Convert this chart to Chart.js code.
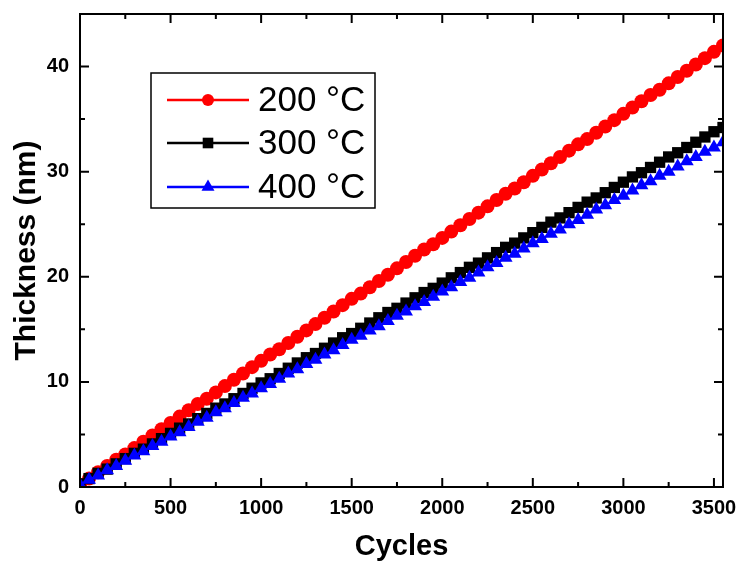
<!DOCTYPE html>
<html>
<head>
<meta charset="utf-8">
<title>Thickness vs Cycles</title>
<script src="https://cdn.jsdelivr.net/npm/chart.js@4.4.1/dist/chart.umd.min.js"></script>
<style>
  body { margin: 0; background: #fff; }
  canvas { display: block; }
</style>
</head>
<body>
<canvas id="thicknessChart" width="738" height="564"></canvas>
<script>
// Cycle numbers (every 50 cycles)
const cycles = [
  0, 50, 100, 150, 200, 250, 300, 350, 400, 450,
  500, 550, 600, 650, 700, 750, 800, 850, 900, 950,
  1000, 1050, 1100, 1150, 1200, 1250, 1300, 1350, 1400, 1450,
  1500, 1550, 1600, 1650, 1700, 1750, 1800, 1850, 1900, 1950,
  2000, 2050, 2100, 2150, 2200, 2250, 2300, 2350, 2400, 2450,
  2500, 2550, 2600, 2650, 2700, 2750, 2800, 2850, 2900, 2950,
  3000, 3050, 3100, 3150, 3200, 3250, 3300, 3350, 3400, 3450,
  3500, 3550
];

// Thickness (nm)
const thick200 = [
  0.2, 0.8, 1.4, 2.0, 2.6, 3.1, 3.7, 4.3, 4.9, 5.5,
  6.1, 6.7, 7.3, 7.9, 8.4, 9.0, 9.6, 10.2, 10.8, 11.4,
  12.0, 12.6, 13.1, 13.7, 14.3, 14.9, 15.5, 16.1, 16.7, 17.3,
  17.9, 18.4, 19.0, 19.6, 20.2, 20.8, 21.4, 22.0, 22.6, 23.1,
  23.7, 24.3, 24.9, 25.5, 26.1, 26.7, 27.3, 27.9, 28.4, 29.0,
  29.6, 30.2, 30.8, 31.4, 32.0, 32.6, 33.1, 33.7, 34.3, 34.9,
  35.5, 36.1, 36.7, 37.3, 37.8, 38.4, 39.0, 39.6, 40.2, 40.8,
  41.4, 42.0
];
const thick300 = [
  0.3, 0.8, 1.3, 1.7, 2.2, 2.7, 3.2, 3.6, 4.1, 4.6,
  5.1, 5.6, 6.0, 6.5, 7.0, 7.5, 7.9, 8.4, 8.9, 9.4,
  9.9, 10.3, 10.8, 11.3, 11.8, 12.3, 12.7, 13.2, 13.7, 14.2,
  14.6, 15.1, 15.6, 16.1, 16.6, 17.0, 17.5, 18.0, 18.5, 18.9,
  19.4, 19.9, 20.4, 20.9, 21.3, 21.8, 22.3, 22.8, 23.2, 23.7,
  24.2, 24.7, 25.2, 25.6, 26.1, 26.6, 27.1, 27.5, 28.0, 28.5,
  29.0, 29.5, 29.9, 30.4, 30.9, 31.4, 31.8, 32.3, 32.8, 33.3,
  33.8, 34.2
];
const thick400 = [
  0.2, 0.7, 1.1, 1.6, 2.0, 2.5, 3.0, 3.4, 3.9, 4.3,
  4.8, 5.2, 5.7, 6.2, 6.6, 7.1, 7.5, 8.0, 8.5, 8.9,
  9.4, 9.8, 10.3, 10.8, 11.2, 11.7, 12.1, 12.6, 13.0, 13.5,
  14.0, 14.4, 14.9, 15.3, 15.8, 16.3, 16.7, 17.2, 17.6, 18.1,
  18.6, 19.0, 19.5, 19.9, 20.4, 20.9, 21.3, 21.8, 22.2, 22.7,
  23.2, 23.6, 24.1, 24.5, 25.0, 25.4, 25.9, 26.4, 26.8, 27.3,
  27.7, 28.2, 28.7, 29.1, 29.6, 30.0, 30.5, 31.0, 31.4, 31.9,
  32.3, 32.8
];

const seriesLabels = ['200 °C', '300 °C', '400 °C'];

// Tick positions (major + minor), labels only on the majors
const xTicks = [0, 250, 500, 750, 1000, 1250, 1500, 1750, 2000, 2250, 2500, 2750, 3000, 3250, 3500];
const yTicks = [0, 5, 10, 15, 20, 25, 30, 35, 40];

const FONT = '"Liberation Sans", Arial, Helvetica, sans-serif';

function toPoints(ys) {
    return cycles.map((c, i) => ({ x: c, y: ys[i] }));
}

// Origin-style frame with inward ticks on all four sides
const framePlugin = {
    id: 'frame',
    afterDraw(chart) {
        const ctx = chart.ctx;
        const a = chart.chartArea;
        const xs = chart.scales.x;
        const ys = chart.scales.y;
        ctx.save();
        ctx.strokeStyle = '#000';
        ctx.lineWidth = 2;
        ctx.lineCap = 'butt';
        ctx.beginPath();
        xs.ticks.forEach(t => {
            const px = xs.getPixelForValue(t.value);
            const len = t.value % 500 === 0 ? 9 : 5;
            ctx.moveTo(px, a.bottom); ctx.lineTo(px, a.bottom - len);
            ctx.moveTo(px, a.top); ctx.lineTo(px, a.top + len);
        });
        ys.ticks.forEach(t => {
            const py = ys.getPixelForValue(t.value);
            const len = t.value % 10 === 0 ? 9 : 5;
            ctx.moveTo(a.left, py); ctx.lineTo(a.left + len, py);
            ctx.moveTo(a.right, py); ctx.lineTo(a.right - len, py);
        });
        ctx.stroke();
        ctx.strokeRect(a.left, a.top, a.right - a.left, a.bottom - a.top);
        ctx.restore();
    }
};

// Boxed legend inside the plot, like the original figure
const boxLegend = {
    id: 'boxLegend',
    afterDraw(chart) {
        const ctx = chart.ctx;
        ctx.save();
        ctx.fillStyle = '#fff';
        ctx.fillRect(151, 73, 224, 135);
        ctx.strokeStyle = '#000';
        ctx.lineWidth = 1.5;
        ctx.strokeRect(151, 73, 224, 135);
        const rowY = [100, 143, 187];
        const sizes = [6, 7.5, 7.5];
        chart.data.datasets.forEach((ds, i) => {
            const y = rowY[i];
            ctx.strokeStyle = ds.borderColor;
            ctx.lineWidth = 2.5;
            ctx.beginPath();
            ctx.moveTo(167, y); ctx.lineTo(249, y);
            ctx.stroke();
            ctx.fillStyle = ds.pointBackgroundColor;
            ctx.strokeStyle = ds.pointBorderColor;
            Chart.helpers.drawPoint(ctx, {
                pointStyle: ds.pointStyle, radius: sizes[i], rotation: 0, borderWidth: 0
            }, 208, y);
            ctx.fillStyle = '#000';
            ctx.font = '35px ' + FONT;
            ctx.textBaseline = 'middle';
            ctx.textAlign = 'left';
            ctx.fillText(ds.label, 258, y + 1);
        });
        ctx.restore();
    }
};

function makeSet(label, ys, color, style, radius, order) {
    return {
        label: label,
        data: toPoints(ys),
        borderColor: color,
        backgroundColor: color,
        pointBackgroundColor: color,
        pointBorderColor: color,
        pointBorderWidth: 0,
        pointStyle: style,
        pointRadius: radius,
        borderWidth: 2,
        tension: 0,
        order: order
    };
}

new Chart(document.getElementById('thicknessChart').getContext('2d'), {
    type: 'line',
    data: {
        datasets: [
            makeSet(seriesLabels[0], thick200, '#ff0000', 'circle', 7, 3),
            makeSet(seriesLabels[1], thick300, '#000000', 'rect', 8, 2),
            makeSet(seriesLabels[2], thick400, '#0000ff', 'triangle', 8, 1)
        ]
    },
    options: {
        responsive: false,
        animation: false,
        layout: { padding: { left: 0, top: 14, right: 15, bottom: 0 } },
        plugins: {
            legend: { display: false },
            tooltip: { enabled: false }
        },
        scales: {
            x: {
                type: 'linear',
                min: 0,
                max: 3550,
                grid: { display: false },
                border: { display: false },
                afterBuildTicks: s => { s.ticks = xTicks.map(v => ({ value: v })); },
                ticks: {
                    autoSkip: false,
                    maxRotation: 0,
                    padding: 1,
                    color: '#000',
                    font: { family: FONT, size: 20, weight: 'bold' },
                    callback: v => (v % 500 === 0 ? String(v) : '')
                },
                title: {
                    display: true,
                    text: 'Cycles',
                    color: '#000',
                    padding: { top: 0, bottom: 0 },
                    font: { family: FONT, size: 29, weight: 'bold' }
                },
                afterFit: s => {
                    s.height = 77;
                    s.paddingLeft = 0;
                    s.paddingRight = 0;
                }
            },
            y: {
                type: 'linear',
                min: 0,
                max: 45,
                grid: { display: false },
                border: { display: false },
                afterBuildTicks: s => { s.ticks = yTicks.map(v => ({ value: v })); },
                ticks: {
                    autoSkip: false,
                    padding: 3,
                    color: '#000',
                    font: { family: FONT, size: 20, weight: 'bold' },
                    callback: v => (v % 10 === 0 ? String(v) : '')
                },
                title: {
                    display: true,
                    text: 'Thickness (nm)',
                    color: '#000',
                    padding: { top: 9, bottom: 0 },
                    font: { family: FONT, size: 30, weight: 'bold' }
                },
                afterFit: s => {
                    s.width = 80;
                    s.paddingTop = 0;
                    s.paddingBottom = 0;
                }
            }
        }
    },
    plugins: [framePlugin, boxLegend]
});
</script>
</body>
</html>
